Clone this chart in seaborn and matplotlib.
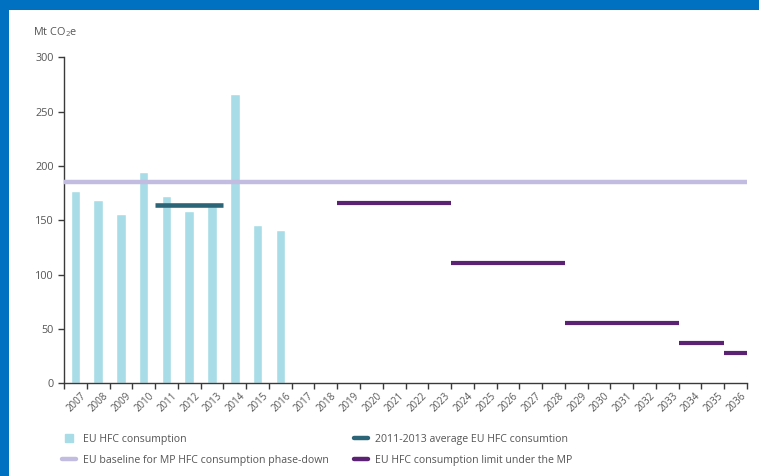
import numpy as np
import pandas as pd
import matplotlib
matplotlib.use("Agg")
import matplotlib.pyplot as plt
from matplotlib.lines import Line2D
from matplotlib.patches import Rectangle
import matplotlib.transforms as mtransforms
import seaborn as sns

# Years on the categorical axis
years = list(range(2007, 2037))

# EU HFC consumption (Mt CO2e)
consumption_years = [2007, 2008, 2009, 2010, 2011, 2012, 2013, 2014, 2015, 2016]
consumption_values = [177, 169, 156, 194, 172, 159, 163, 266, 146, 141]

# 2011-2013 average consumption
average_start, average_end = 2011, 2013
average_value = 164

# Baseline for the Montreal Protocol phase-down
baseline_value = 185

# Consumption limits under the MP (step periods)
limit_start = [2019, 2024, 2029, 2034, 2036]
limit_end = [2023, 2028, 2033, 2035, 2036]
limit_values = [166, 111, 55.5, 37, 27.75]

labels = [
    "EU HFC consumption",
    "EU baseline for MP HFC consumption phase-down",
    "2011-2013 average EU HFC consumtion",
    "EU HFC consumption limit under the MP",
]

c_bar = "#a8dde7"
c_avg = "#2b6577"
c_base = "#c2bce0"
c_limit = "#5b2172"
c_text = "#555555"
c_axis = "#3a3a3a"
c_frame = "#0070c0"

sns.set_theme(style="white")
plt.rcParams["font.family"] = ["Open Sans", "DejaVu Sans"]
plt.rcParams["mathtext.fontset"] = "custom"
plt.rcParams["mathtext.rm"] = "Open Sans"
plt.rcParams["mathtext.it"] = "Open Sans:italic"

W, H = 759, 476
fig = plt.figure(figsize=(W / 100, H / 100), dpi=100)
fig.patch.set_facecolor("white")

# Blue frame strips on the left and top edges
fig.add_artist(Rectangle((0, 0), 9 / W, 1, transform=fig.transFigure,
                         color=c_frame, lw=0, zorder=0))
fig.add_artist(Rectangle((0, 1 - 10 / H), 1, 10 / H, transform=fig.transFigure,
                         color=c_frame, lw=0, zorder=0))

x0, x1 = 64, 747
y0, y1 = 383.3, 57.3
ax = fig.add_axes([x0 / W, 1 - y0 / H, (x1 - x0) / W, (y0 - y1) / H])

df = pd.DataFrame({"year": [str(y) for y in consumption_years],
                   "value": consumption_values})
order = [str(y) for y in years]
sns.barplot(data=df, x="year", y="value", order=order, color=c_bar,
            saturation=1, width=0.42, ax=ax, zorder=2)

pos = {y: i for i, y in enumerate(years)}

ax.set_xlim(-0.5, len(years) - 0.5)
ax.set_ylim(0, 300)

# Baseline across the full period
ax.hlines(baseline_value, -0.5, len(years) - 0.5, color=c_base, lw=3.2, zorder=3)
# 2011-2013 average
ax.hlines(average_value, pos[average_start] - 0.5, pos[average_end] + 0.5,
          color=c_avg, lw=3.3, zorder=4)
# Limit steps
for s, e, v in zip(limit_start, limit_end, limit_values):
    ax.hlines(v, pos[s] - 0.5, pos[e] + 0.5, color=c_limit, lw=3.0, zorder=4)

for side in ["top", "right"]:
    ax.spines[side].set_visible(False)
for side in ["left", "bottom"]:
    ax.spines[side].set_color(c_axis)
    ax.spines[side].set_linewidth(1.0)

ax.set_xlabel("")
ax.set_ylabel("")
ax.set_yticks([0, 50, 100, 150, 200, 250, 300])
ax.tick_params(axis="y", which="major", direction="out", length=4.5, width=1,
               color=c_axis, labelsize=7.8, labelcolor=c_text, pad=3, left=True)

# Tick marks at category boundaries, labels at category centres
ax.set_xticks(np.arange(len(years)))
ax.set_xticklabels(order, rotation=45, ha="right", rotation_mode="anchor")
ax.set_xticks(np.arange(len(years) + 1) - 0.5, minor=True)
ax.tick_params(axis="x", which="major", length=0, labelsize=7.0,
               labelcolor=c_text, pad=5)
ax.tick_params(axis="x", which="minor", direction="out", length=4.5, width=1,
               color=c_axis, bottom=True)
offset = mtransforms.ScaledTranslation(5 / 100, 0, fig.dpi_scale_trans)
for lbl in ax.get_xticklabels():
    lbl.set_transform(lbl.get_transform() + offset)

fig.text(33 / W, 1 - 32 / H, r"$\mathregular{Mt\ CO_2e}$", fontsize=7.8,
         color=c_text, ha="left", va="center")

h_bar = Line2D([], [], marker="s", linestyle="none", markersize=5.5,
               color=c_bar)
h_base = Line2D([], [], color=c_base, lw=3.2)
h_avg = Line2D([], [], color=c_avg, lw=3.2)
h_lim = Line2D([], [], color=c_limit, lw=3.2)

common = dict(loc="upper left", frameon=False, fontsize=7.6, borderpad=0,
              handlelength=1.35, handletextpad=0.6, labelspacing=0.95,
              borderaxespad=0, labelcolor=c_text)
leg1 = fig.legend([h_bar, h_base], labels[:2],
                  bbox_to_anchor=(62 / W, 1 - 434 / H), **common)
leg2 = fig.legend([h_avg, h_lim], labels[2:],
                  bbox_to_anchor=(354 / W, 1 - 434 / H), **common)

fig.savefig("out.png", dpi=100, facecolor=fig.get_facecolor())
